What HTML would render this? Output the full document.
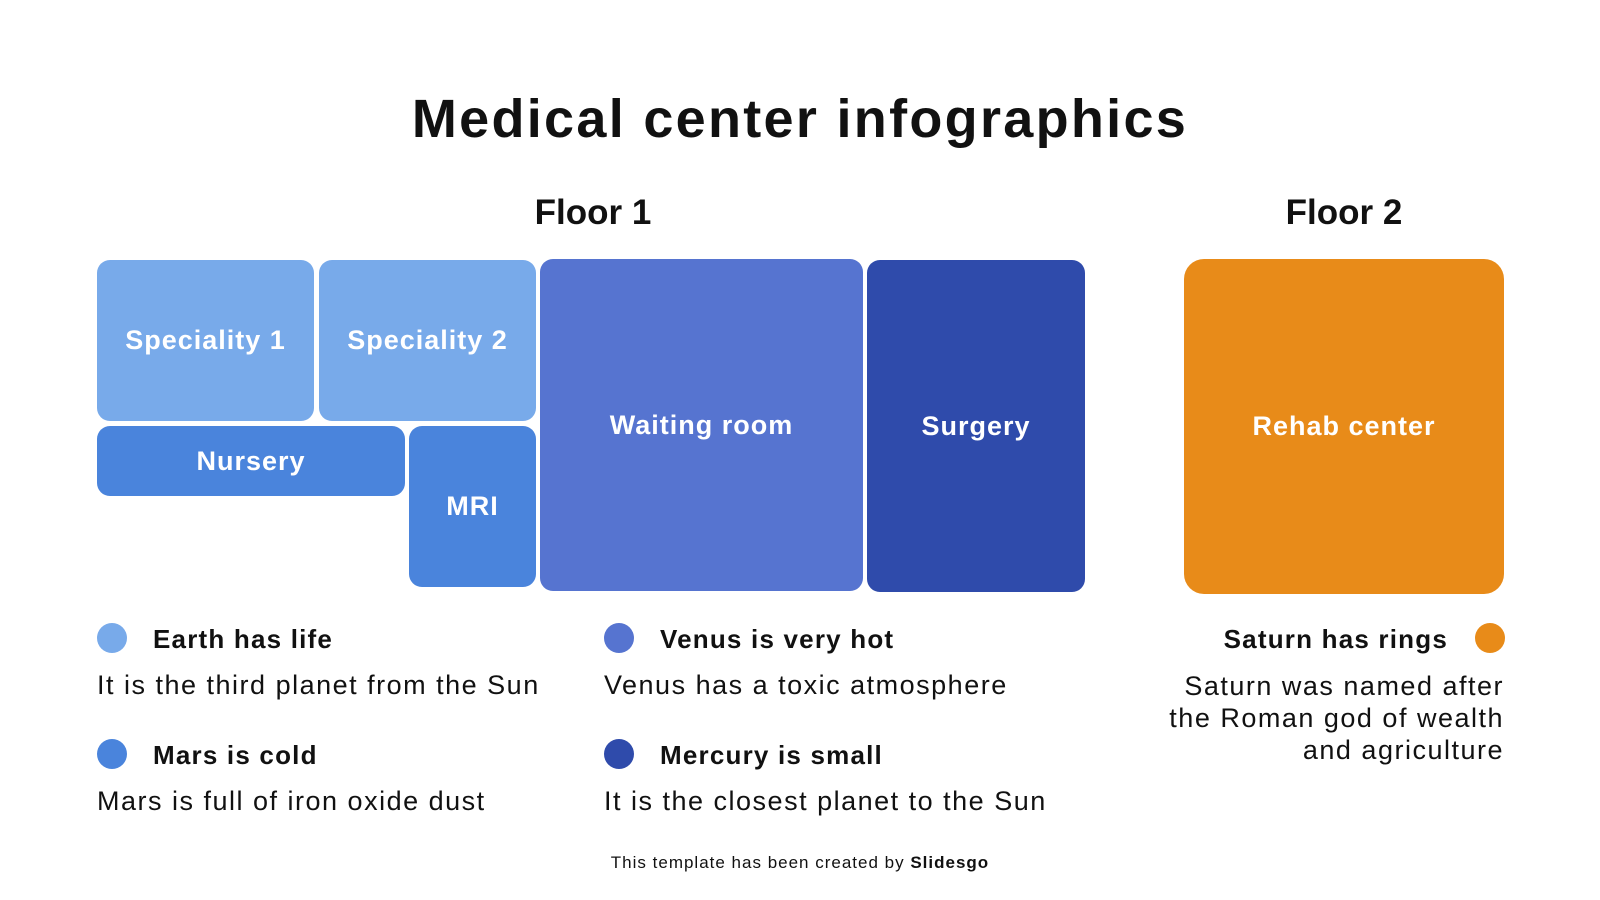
<!DOCTYPE html>
<html><head><meta charset="utf-8"><style>
body{margin:0;width:1600px;height:900px;background:#fff;position:relative;overflow:hidden;font-family:"Liberation Sans",sans-serif;color:#111}
.a{position:absolute}
.b{position:absolute;border-radius:13px;color:#fff;font-weight:bold;font-size:27px;letter-spacing:1px;display:flex;align-items:center;justify-content:center}
.t{position:absolute;white-space:nowrap}
.d{position:absolute;width:30px;height:30px;border-radius:50%}
.h{font-weight:bold;font-size:26px;letter-spacing:1.2px}
.p{font-size:27px;letter-spacing:1.5px}
</style></head><body>
<div class="t" style="left:0;width:1600px;text-align:center;top:88px;font-size:54px;font-weight:bold;letter-spacing:2.3px">Medical center infographics</div>
<div class="t" style="left:493px;width:200px;text-align:center;top:193px;font-size:35px;font-weight:bold">Floor 1</div>
<div class="t" style="left:1244px;width:200px;text-align:center;top:193px;font-size:35px;font-weight:bold">Floor 2</div>

<div class="b" style="left:97px;top:260px;width:217px;height:161px;background:#78aaea">Speciality 1</div>
<div class="b" style="left:319px;top:260px;width:217px;height:161px;background:#78aaea">Speciality 2</div>
<div class="b" style="left:97px;top:426px;width:308px;height:70px;background:#4a84dc">Nursery</div>
<div class="b" style="left:409px;top:426px;width:127px;height:161px;background:#4a84dc">MRI</div>
<div class="b" style="left:540px;top:259px;width:323px;height:332px;background:#5674d0">Waiting room</div>
<div class="b" style="left:867px;top:260px;width:218px;height:332px;background:#2f4bab">Surgery</div>
<div class="b" style="left:1184px;top:259px;width:320px;height:335px;background:#e88b19;border-radius:20px">Rehab center</div>

<div class="d" style="left:97px;top:623px;background:#78aaea"></div>
<div class="t h" style="left:153px;top:624px">Earth has life</div>
<div class="t p" style="left:97px;top:670px">It is the third planet from the Sun</div>
<div class="d" style="left:97px;top:739px;background:#4a84dc"></div>
<div class="t h" style="left:153px;top:740px">Mars is cold</div>
<div class="t p" style="left:97px;top:786px">Mars is full of iron oxide dust</div>

<div class="d" style="left:604px;top:623px;background:#5674d0"></div>
<div class="t h" style="left:660px;top:624px">Venus is very hot</div>
<div class="t p" style="left:604px;top:670px">Venus has a toxic atmosphere</div>
<div class="d" style="left:604px;top:739px;background:#2f4bab"></div>
<div class="t h" style="left:660px;top:740px">Mercury is small</div>
<div class="t p" style="left:604px;top:786px">It is the closest planet to the Sun</div>

<div class="d" style="left:1475px;top:623px;background:#e88b19"></div>
<div class="t h" style="right:152px;top:624px">Saturn has rings</div>
<div class="a p" style="right:96px;top:670px;text-align:right;line-height:32px;white-space:nowrap">Saturn was named after<br>the Roman god of wealth<br>and agriculture</div>

<div class="t" style="left:0;width:1600px;text-align:center;top:853px;font-size:17px;letter-spacing:1px">This template has been created by <b>Slidesgo</b></div>
</body></html>
